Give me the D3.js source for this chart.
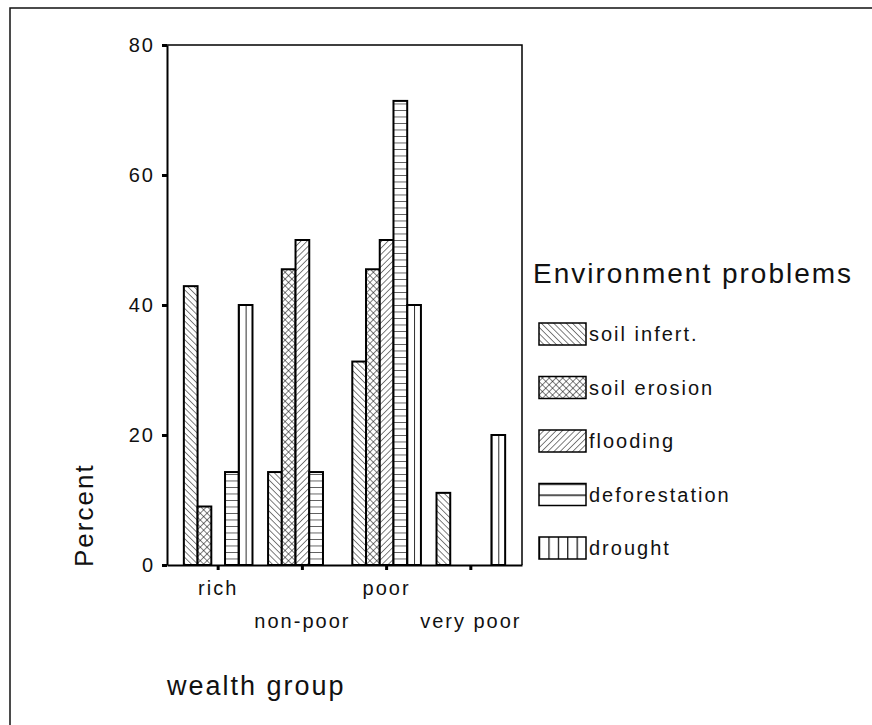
<!DOCTYPE html>
<html>
<head>
<meta charset="utf-8">
<script src="https://cdn.jsdelivr.net/npm/d3@7"></script>
<style>
  body { margin: 0; background: #fff; }
  svg { display: block; }
  text { font-family: "Liberation Sans", Arial, sans-serif; fill: #111; }
</style>
</head>
<body>
<div id="container"></div>
<script>
const width = 872,
  height = 725;

/* DATA */
const categories = ["rich", "non-poor", "poor", "very poor"];
const problems = ["soil infert.", "soil erosion", "flooding", "deforestation", "drought"];
const soilInfert = [42.9, 14.3, 31.3, 11.1];
const soilErosion = [9, 45.5, 45.5, 0];
const flooding = [0, 50, 50, 0];
const deforestation = [14.3, 14.3, 71.4, 0];
const drought = [40, 0, 40, 20];
const yTicks = [0, 20, 40, 60, 80];

const series = [soilInfert, soilErosion, flooding, deforestation, drought];
const rows = [];
categories.forEach((c, ci) => {
  problems.forEach((p, pi) => {
    rows.push({ group: c, problem: p, value: series[pi][ci] });
  });
});

const plotLeft = 167, plotRight = 522, plotTop = 45, plotBottom = 565;

/* SCALES */
const xScale = d3.scaleBand()
  .domain(categories)
  .range([plotLeft, plotRight])
  .paddingInner(0.185)
  .paddingOuter(0.2);

const xSub = d3.scaleBand()
  .domain(problems)
  .range([0, xScale.bandwidth()]);

const yScale = d3.scaleLinear()
  .domain([0, 80])
  .range([plotBottom, plotTop]);

const svg = d3.select("#container").append("svg")
  .attr("width", width)
  .attr("height", height);

/* PATTERNS */
const defs = svg.append("defs");

function diagPattern(id, angle, cross, size) {
  const p = defs.append("pattern")
    .attr("id", id)
    .attr("patternUnits", "userSpaceOnUse")
    .attr("width", size).attr("height", size)
    .attr("patternTransform", `rotate(${angle})`);
  p.append("rect").attr("width", size).attr("height", size).attr("fill", "#fff");
  p.append("line").attr("x1", 0).attr("y1", -1).attr("x2", 0).attr("y2", size + 1)
    .attr("stroke", "#000").attr("stroke-width", 1);
  if (cross) {
    p.append("line").attr("x1", -1).attr("y1", 0).attr("x2", size + 1).attr("y2", 0)
      .attr("stroke", "#000").attr("stroke-width", 1);
  }
}
diagPattern("pat0", -45, false, 4.4);
diagPattern("pat1", 45, true, 4.8);
diagPattern("pat2", 45, false, 4.4);

// horizontal lines for bars, lined up on the baseline
const ph = defs.append("pattern")
  .attr("id", "pat3")
  .attr("patternUnits", "userSpaceOnUse")
  .attr("width", 10).attr("height", 6.5)
  .attr("y", plotBottom);
ph.append("rect").attr("width", 10).attr("height", 6.5).attr("fill", "#fff");
ph.append("line").attr("x1", 0).attr("x2", 10).attr("y1", 0).attr("y2", 0)
  .attr("stroke", "#000").attr("stroke-width", 1.2);

// vertical line in the middle of the bar
const pv = defs.append("pattern")
  .attr("id", "pat4")
  .attr("patternUnits", "objectBoundingBox")
  .attr("patternContentUnits", "objectBoundingBox")
  .attr("width", 0.5).attr("height", 1);
pv.append("rect").attr("width", 0.5).attr("height", 1).attr("fill", "#fff");
pv.append("rect").attr("x", 0).attr("width", 0.06).attr("height", 1).attr("fill", "#000");

// legend versions of the line patterns
const lh = defs.append("pattern")
  .attr("id", "leg3")
  .attr("patternUnits", "objectBoundingBox")
  .attr("patternContentUnits", "objectBoundingBox")
  .attr("width", 1).attr("height", 0.5);
lh.append("rect").attr("width", 1).attr("height", 0.5).attr("fill", "#fff");
lh.append("rect").attr("y", 0).attr("width", 1).attr("height", 0.06).attr("fill", "#000");

const lv = defs.append("pattern")
  .attr("id", "leg4")
  .attr("patternUnits", "objectBoundingBox")
  .attr("patternContentUnits", "objectBoundingBox")
  .attr("width", 0.2).attr("height", 1);
lv.append("rect").attr("width", 0.2).attr("height", 1).attr("fill", "#fff");
lv.append("rect").attr("x", 0).attr("width", 0.025).attr("height", 1).attr("fill", "#000");

const barFill = i => `url(#pat${i})`;
const legFill = i => i >= 3 ? `url(#leg${i})` : `url(#pat${i})`;

/* OUTER FRAME */
svg.append("path")
  .attr("d", `M10,${height + 5} L10,8 L${width + 5},8`)
  .attr("fill", "none")
  .attr("stroke", "#111")
  .attr("stroke-width", 1.5);

/* PLOT FRAME (top and right) */
svg.append("path")
  .attr("d", `M${plotLeft},${plotTop} L${plotRight},${plotTop} L${plotRight},${plotBottom}`)
  .attr("fill", "none")
  .attr("stroke", "#000")
  .attr("stroke-width", 1.5);

/* BARS */
svg.selectAll("rect.bar")
  .data(rows.filter(d => d.value > 0))
  .join("rect")
  .attr("class", "bar")
  .attr("x", d => xScale(d.group) + xSub(d.problem))
  .attr("y", d => yScale(d.value))
  .attr("width", xSub.bandwidth())
  .attr("height", d => yScale(0) - yScale(d.value))
  .attr("fill", d => barFill(problems.indexOf(d.problem)))
  .attr("stroke", "#000")
  .attr("stroke-width", 2);

/* AXES */
const yAxis = d3.axisLeft(yScale)
  .tickValues(yTicks)
  .tickSize(5)
  .tickSizeOuter(0)
  .tickPadding(7);

const gy = svg.append("g")
  .attr("class", "y-axis")
  .attr("transform", `translate(${plotLeft},0)`)
  .call(yAxis);
gy.select(".domain").attr("stroke-width", 2);
gy.selectAll(".tick line").attr("stroke-width", 3);
gy.selectAll(".tick text")
  .attr("font-size", 20)
  .attr("letter-spacing", 2)
  .attr("fill", "#111")
  .style("font-family", "'Liberation Sans', Arial, sans-serif");

const xAxis = d3.axisBottom(xScale)
  .tickSize(5)
  .tickSizeOuter(0);

const gx = svg.append("g")
  .attr("class", "x-axis")
  .attr("transform", `translate(0,${plotBottom})`)
  .call(xAxis);
gx.select(".domain").attr("stroke-width", 2);
gx.selectAll(".tick line").attr("stroke-width", 3);
gx.selectAll(".tick text")
  .attr("font-size", 20)
  .attr("letter-spacing", 2)
  .attr("fill", "#111")
  .attr("dy", 0)
  .attr("y", (d, i) => i % 2 ? 63 : 30)
  .style("font-family", "'Liberation Sans', Arial, sans-serif");

/* AXIS TITLES */
svg.append("text")
  .attr("transform", "rotate(-90)")
  .attr("x", -567)
  .attr("y", 93)
  .attr("font-size", 26)
  .attr("letter-spacing", 2)
  .attr("text-anchor", "start")
  .text("Percent");

svg.append("text")
  .attr("x", 167)
  .attr("y", 695)
  .attr("font-size", 27)
  .attr("letter-spacing", 2)
  .text("wealth group");

/* LEGEND */
svg.append("text")
  .attr("x", 533)
  .attr("y", 283)
  .attr("font-size", 28)
  .attr("letter-spacing", 2)
  .text("Environment problems");

const legend = svg.selectAll("g.legend")
  .data(problems)
  .join("g")
  .attr("class", "legend")
  .attr("transform", (d, i) => `translate(539,${334 + i * 53.5})`);

legend.append("rect")
  .attr("x", 0)
  .attr("y", -11)
  .attr("width", 47)
  .attr("height", 22)
  .attr("fill", (d, i) => legFill(i))
  .attr("stroke", "#000")
  .attr("stroke-width", 1.5);

legend.append("text")
  .attr("x", 50)
  .attr("y", 0)
  .attr("dy", "0.35em")
  .attr("font-size", 20)
  .attr("letter-spacing", 2)
  .text(d => d);
</script>
</body>
</html>
